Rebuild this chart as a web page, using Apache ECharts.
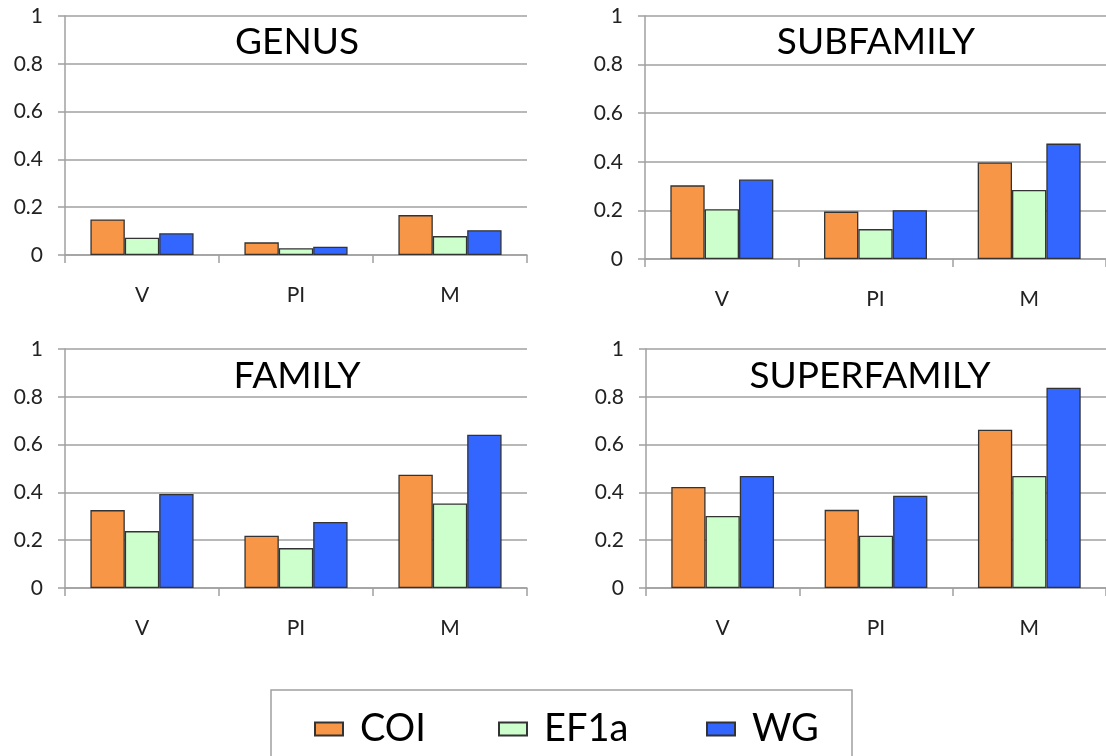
<!DOCTYPE html>
<html>
<head>
<meta charset="utf-8">
<script src="https://cdn.jsdelivr.net/npm/echarts@6/dist/echarts.min.js"></script>
<style>
html,body{margin:0;padding:0;background:#fff;}
#chart{width:1106px;height:756px;}
</style>
</head>
<body>
<div id="chart"></div>
<script>
// ---- data ----
const categories = ['V', 'PI', 'M'];
const seriesNames = ['COI', 'EF1a', 'WG'];
const panelTitles = ['GENUS', 'SUBFAMILY', 'FAMILY', 'SUPERFAMILY'];
const yTicks = [0, 0.2, 0.4, 0.6, 0.8, 1];

const genusCOI = [0.149, 0.053, 0.167];
const genusEF1a = [0.072, 0.028, 0.079];
const genusWG = [0.091, 0.035, 0.104];

const subfamilyCOI = [0.303, 0.195, 0.397];
const subfamilyEF1a = [0.205, 0.123, 0.284];
const subfamilyWG = [0.327, 0.201, 0.475];

const familyCOI = [0.326, 0.219, 0.474];
const familyEF1a = [0.238, 0.167, 0.354];
const familyWG = [0.393, 0.276, 0.641];

const superfamilyCOI = [0.423, 0.327, 0.662];
const superfamilyEF1a = [0.301, 0.219, 0.469];
const superfamilyWG = [0.469, 0.386, 0.838];

// ---- layout / style ----
const panelData = [
  [genusCOI, genusEF1a, genusWG],
  [subfamilyCOI, subfamilyEF1a, subfamilyWG],
  [familyCOI, familyEF1a, familyWG],
  [superfamilyCOI, superfamilyEF1a, superfamilyWG]
];
const grids = [
  {left: 65, top: 16, width: 462, height: 239},
  {left: 645, top: 16, width: 468, height: 243},
  {left: 65, top: 349, width: 462, height: 239},
  {left: 646, top: 349, width: 466, height: 239}
];
const titlePos = [
  {x: 297, y: 24},
  {x: 876, y: 24},
  {x: 297, y: 358},
  {x: 870, y: 358}
];
const colors = ['#F79646', '#CCFFCC', '#3366FF'];
const FONT = 'Lato, "Open Sans", sans-serif';
const gridColor = '#a0a0a0';

const option = {
  animation: false,
  backgroundColor: '#fff',
  grid: grids.map(g => Object.assign({containLabel: false}, g)),
  title: panelTitles.map((t, i) => ({
    text: t,
    left: titlePos[i].x,
    top: titlePos[i].y,
    textAlign: 'center',
    padding: 0,
    textStyle: {fontFamily: FONT, fontSize: 37, fontWeight: 'normal', color: '#000'}
  })),
  xAxis: grids.map((g, i) => ({
    type: 'category',
    gridIndex: i,
    data: categories,
    axisLine: {show: true, lineStyle: {color: gridColor, width: 1.5}},
    axisTick: {show: true, length: 8, inside: false, lineStyle: {color: gridColor, width: 1.5}},
    axisLabel: {margin: 30, fontFamily: FONT, fontSize: 21, color: '#222'},
    splitLine: {show: false}
  })),
  yAxis: grids.map((g, i) => ({
    type: 'value',
    gridIndex: i,
    min: yTicks[0],
    max: yTicks[yTicks.length - 1],
    interval: 0.2,
    axisLine: {show: true, lineStyle: {color: gridColor, width: 1.5}},
    axisTick: {show: true, length: 7, lineStyle: {color: gridColor, width: 1.5}},
    axisLabel: {margin: 22, fontFamily: FONT, fontSize: 21, color: '#222'},
    splitLine: {show: true, lineStyle: {color: gridColor, width: 1.5}}
  })),
  legend: seriesNames.map((n, i) => ({
    data: [{name: n, icon: 'rect'}],
    left: [314, 498, 706][i],
    top: 710,
    itemWidth: 28,
    itemHeight: 13,
    padding: 0,
    textStyle: {fontFamily: FONT, fontSize: 38, color: '#000', padding: [0, 0, 0, 12]}
  })),
  graphic: [{
    type: 'rect',
    shape: {x: 271, y: 690, width: 581, height: 90},
    style: {fill: 'none', stroke: '#a0a0a0', lineWidth: 1.5},
    silent: true
  }],
  series: []
};

panelData.forEach((set, p) => {
  set.forEach((vals, s) => {
    option.series.push({
      type: 'bar',
      name: seriesNames[s],
      xAxisIndex: p,
      yAxisIndex: p,
      data: vals,
      barGap: '0%',
      barCategoryGap: '33%',
      itemStyle: {color: colors[s], borderColor: '#333', borderWidth: 1.3}
    });
  });
});

const chart = echarts.init(document.getElementById('chart'), null, {renderer: 'canvas'});
chart.setOption(option);
</script>
</body>
</html>
